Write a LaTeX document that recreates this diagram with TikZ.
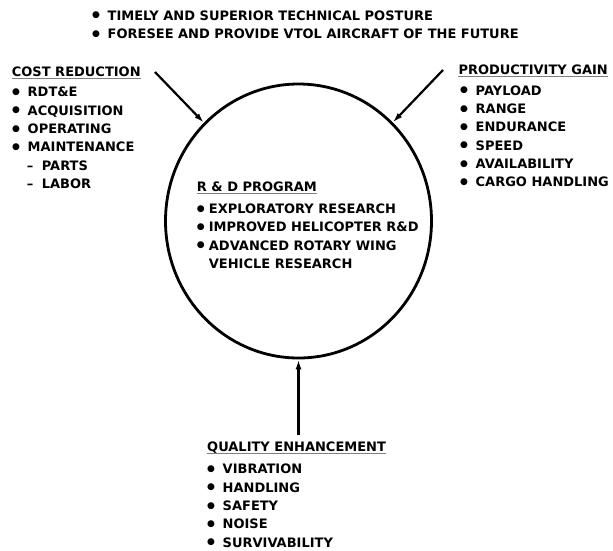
\documentclass[tikz,border=0pt]{standalone}
\usepackage{fontspec}
\setmainfont{DejaVu Sans}
\usetikzlibrary{arrows.meta,shapes.geometric}

\newcommand{\bul}[1][15.5pt]{\makebox[#1][l]{\raisebox{2.2pt}{\fontsize{9}{9}\selectfont ●}}}
\newcommand{\sub}{\hspace{14.7pt}\makebox[15pt][l]{--}}

\begin{document}
\begin{tikzpicture}[x=1pt,y=-1pt,
		head/.style={anchor=west,inner sep=0pt,text height=9.5pt,text depth=0pt,font=\bfseries\fontsize{13}{18.3}\selectfont},
		list/.style={anchor=north west,inner sep=0pt,align=left,font=\bfseries\fontsize{13}{18.3}\selectfont},
		ul/.style={gray,line width=0.8pt},
		arr/.style={-{Latex[length=10pt,width=6pt]},line width=2.2pt}]
	\useasboundingbox (0,0) rectangle (613,550);

	% goals on top
	\node[list] (goals) at (92,10.25) {\bul TIMELY AND SUPERIOR TECHNICAL POSTURE\\
		\bul FORESEE AND PROVIDE VTOL AIRCRAFT OF THE FUTURE};

	% the program
	\node[draw,ellipse,line width=2.8pt,minimum width=266pt,minimum height=274pt,inner sep=0pt] (rd) at (298.5,221) {};
	\node[head] (rdhead) at (196.7,186.7) {R \& D PROGRAM};
	\node[list] (rdlist) at (196.7,203.6) {\bul[12pt]EXPLORATORY RESEARCH\\
		\bul[12pt]IMPROVED HELICOPTER R\&D\\
		\bul[12pt]ADVANCED ROTARY WING\\
		\hspace{12pt}VEHICLE RESEARCH};

	% cost
	\node[head] (cost) at (11.7,71.7) {COST REDUCTION};
	\node[list] (costlist) at (12,87) {\bul RDT\&E\\
		\bul ACQUISITION\\
		\bul OPERATING\\
		\bul MAINTENANCE\\
		\sub PARTS\\
		\sub LABOR};

	% productivity
	\node[head] (prod) at (458.3,70) {PRODUCTIVITY GAIN};
	\node[list] (prodlist) at (460,85.3) {\bul PAYLOAD\\
		\bul RANGE\\
		\bul ENDURANCE\\
		\bul SPEED\\
		\bul AVAILABILITY\\
		\bul CARGO HANDLING};

	% quality
	\node[head] (qual) at (207,447) {QUALITY ENHANCEMENT};
	\node[list] (quallist) at (207,464) {\bul VIBRATION\\
		\bul HANDLING\\
		\bul SAFETY\\
		\bul NOISE\\
		\bul SURVIVABILITY};

	\draw[ul] ([yshift=-1.5pt]rdhead.south west) -- ([yshift=-1.5pt]rdhead.south east);
	\draw[ul] ([yshift=-1.5pt]cost.south west) -- ([yshift=-1.5pt]cost.south east);
	\draw[ul] ([yshift=-1.5pt]prod.south west) -- ([yshift=-1.5pt]prod.south east);
	\draw[ul] ([yshift=-1.5pt]qual.south west) -- ([yshift=-1.5pt]qual.south east);

	\coordinate (c) at (155,72);
	\coordinate (p) at (443,70);
	\coordinate (q) at (298.5,435);
	\path[arr] (c) edge (rd);
	\path[arr] (p) edge (rd);
	\path[arr] (q) edge (rd);
\end{tikzpicture}
\end{document}
